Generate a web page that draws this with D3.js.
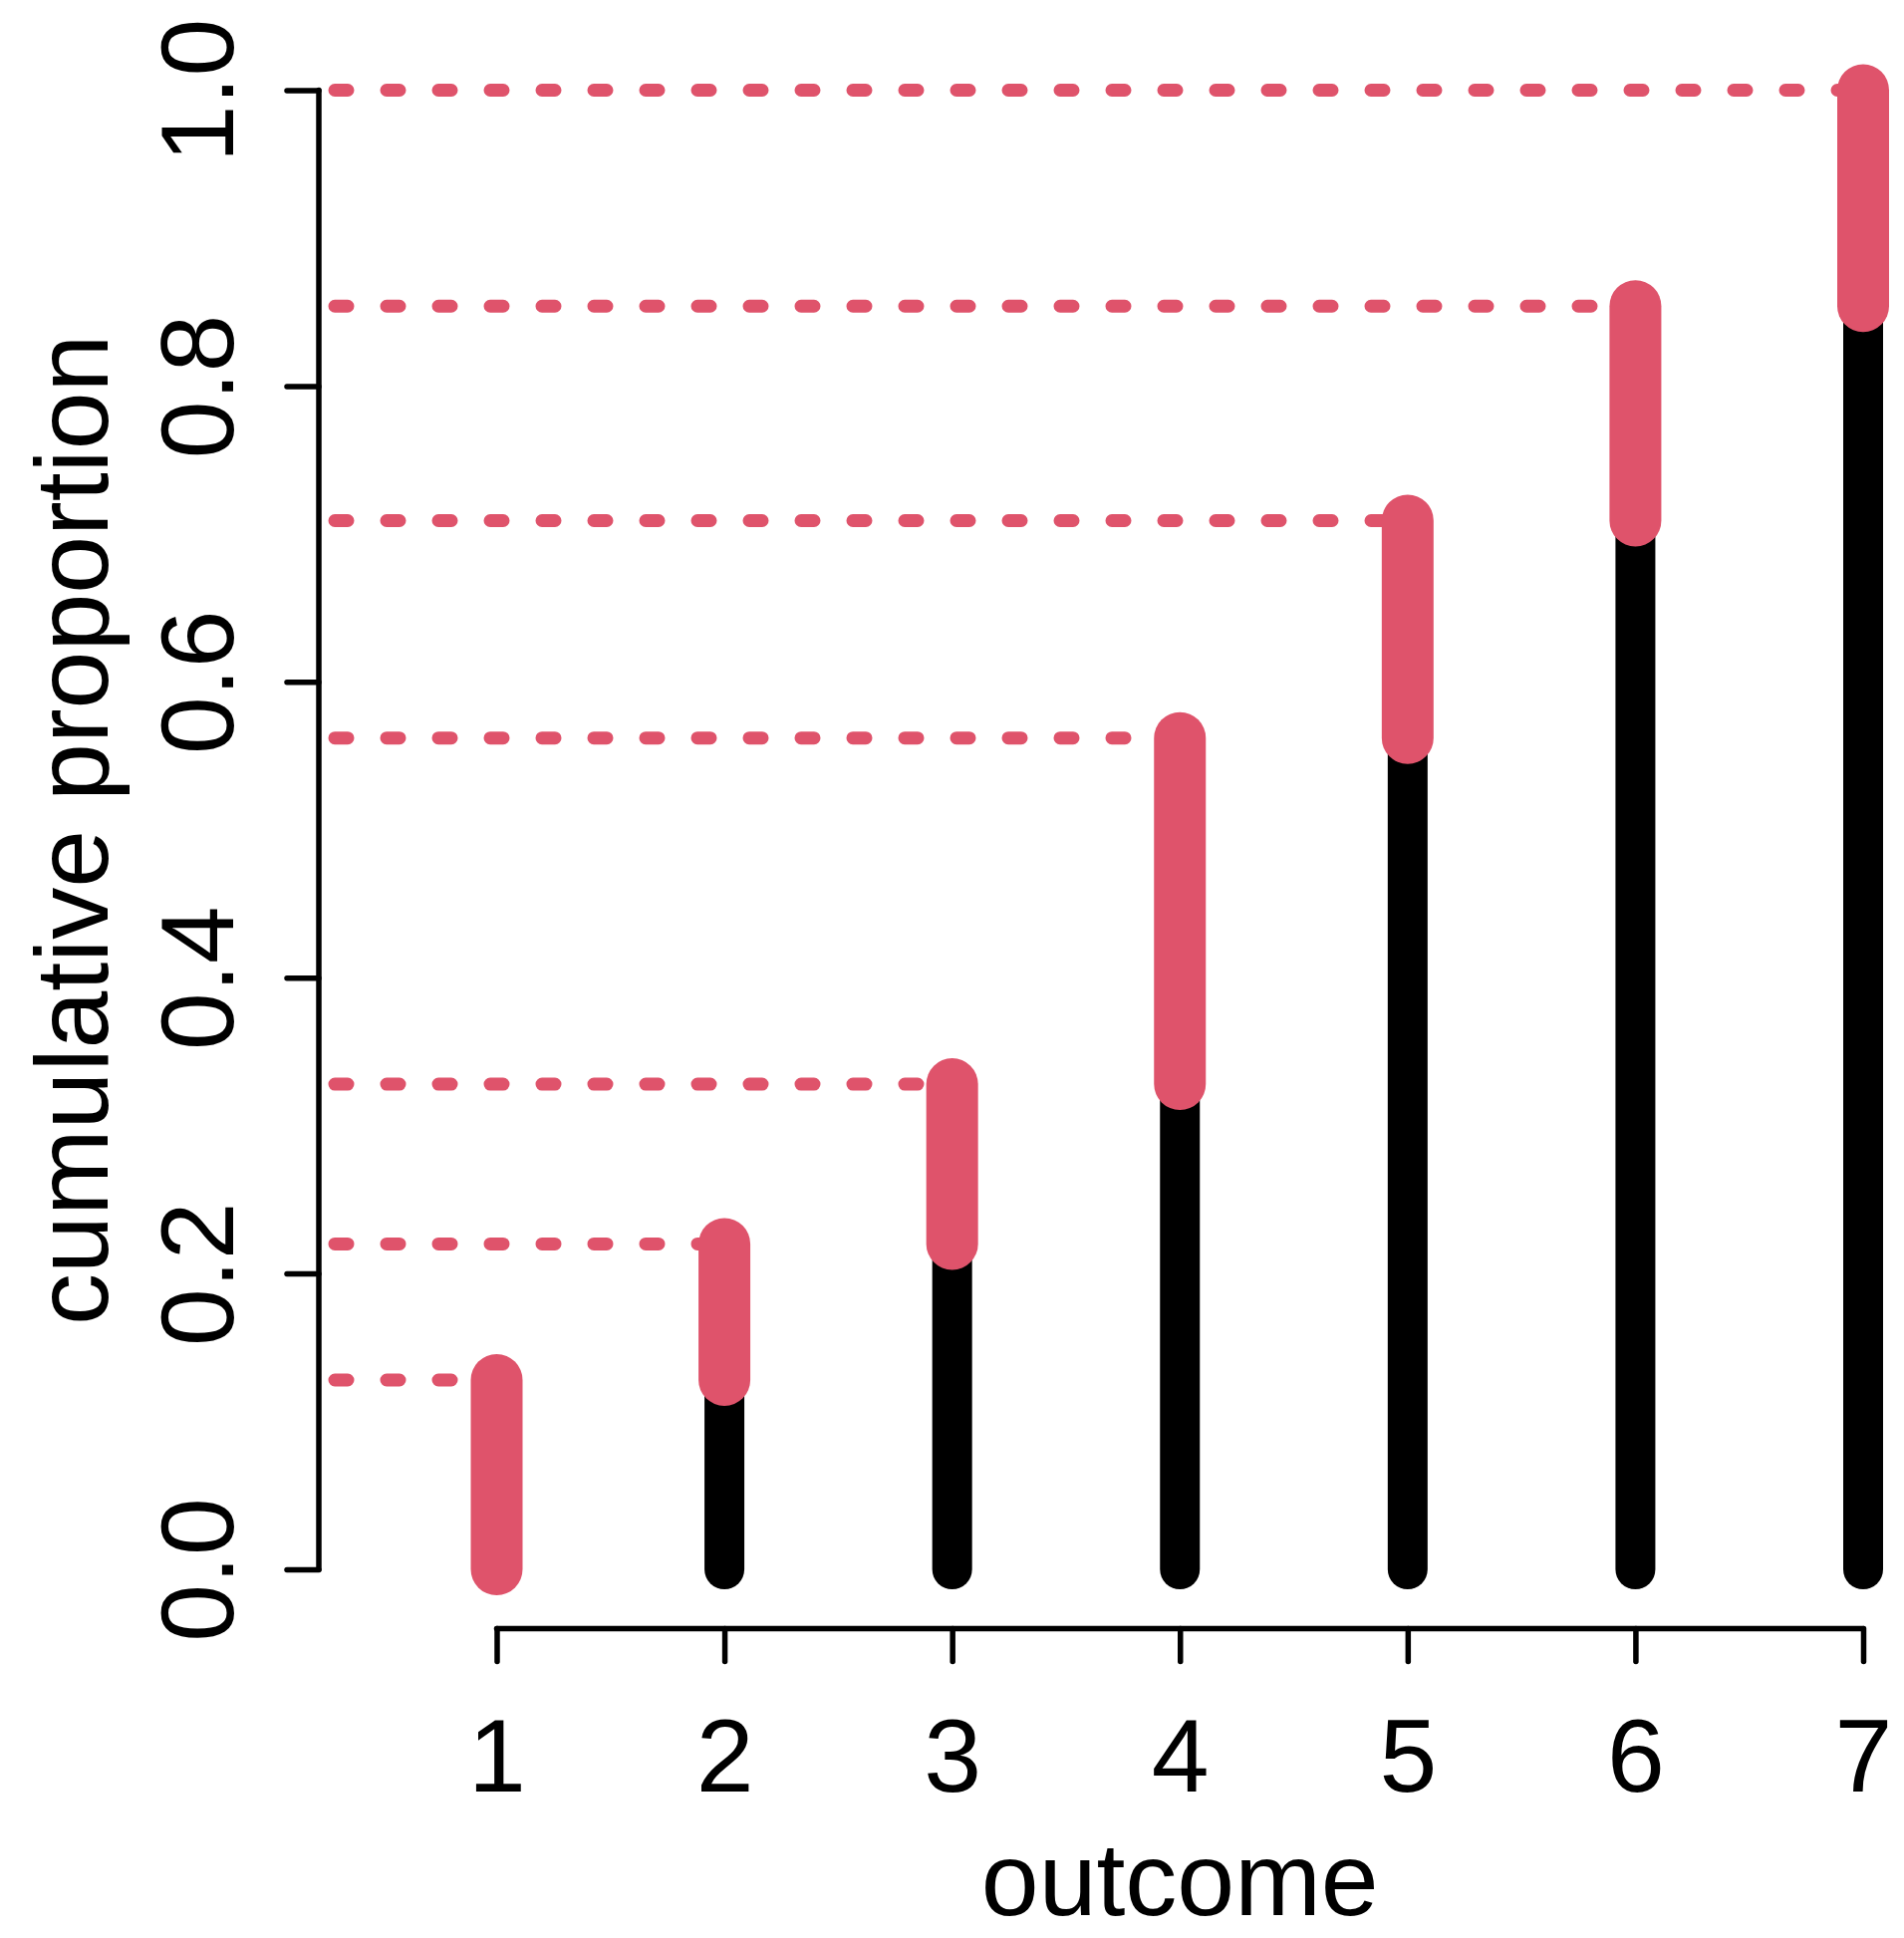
<!DOCTYPE html>
<html>
<head>
<meta charset="utf-8">
<script src="https://cdn.jsdelivr.net/npm/d3@7"></script>
<style>
  html, body { margin: 0; padding: 0; background: #fff; }
  svg { display: block; font-family: "Liberation Sans", Arial, sans-serif; }
</style>
</head>
<body>
<div class="container"></div>
<script>
const WIDTH = 1911,
    HEIGHT = 1945,
    AXIS_X = 320,
    AXIS_Y = 1634.5,
    RED = '#DF536B',
    FONT_SIZE = 104;

// data
const outcomes = [1, 2, 3, 4, 5, 6, 7];
const cumProportion = [0.128, 0.220, 0.328, 0.562, 0.709, 0.854, 1.0];
const yTicks = [0, 0.2, 0.4, 0.6, 0.8, 1.0];
const xLabel = 'outcome',
    yLabel = 'cumulative proportion';

const xScale = d3.scaleLinear()
    .domain([1, 7])
    .range([498.5, 1870]);

const yScale = d3.scaleLinear()
    .domain([0, 1])
    .range([1575, 90.5]);

var svg = d3.select('.container').append('svg')
    .attr('width', WIDTH)
    .attr('height', HEIGHT);

// y axis
var yAxis = d3.axisLeft(yScale)
    .tickValues(yTicks)
    .tickSize(32)
    .tickSizeOuter(0)
    .tickFormat(d3.format('.1f'));

var gy = svg.append('g')
    .attr('transform', `translate(${AXIS_X},0)`)
    .call(yAxis);

gy.select('.domain').remove();
gy.append('line')
    .attr('y1', yScale(0))
    .attr('y2', yScale(1))
    .attr('stroke', '#000')
    .attr('stroke-width', 5.5)
    .attr('stroke-linecap', 'round');
gy.selectAll('.tick line')
    .attr('stroke-width', 5.5)
    .attr('stroke-linecap', 'round');
gy.selectAll('.tick text')
    .attr('x', null)
    .attr('dy', null)
    .attr('transform', 'translate(-86,0) rotate(-90)')
    .attr('text-anchor', 'middle')
    .attr('fill', '#000')
    .style('font-size', FONT_SIZE + 'px');

// x axis
var xAxis = d3.axisBottom(xScale)
    .tickValues(outcomes)
    .tickSize(33)
    .tickSizeOuter(0)
    .tickFormat(d3.format('d'));

var gx = svg.append('g')
    .attr('transform', `translate(0,${AXIS_Y})`)
    .call(xAxis);

gx.select('.domain').remove();
gx.append('line')
    .attr('x1', xScale(1))
    .attr('x2', xScale(7))
    .attr('stroke', '#000')
    .attr('stroke-width', 5.5)
    .attr('stroke-linecap', 'round');
gx.selectAll('.tick line')
    .attr('stroke-width', 5.5)
    .attr('stroke-linecap', 'round');
gx.selectAll('.tick text')
    .attr('dy', null)
    .attr('y', 163.5)
    .attr('fill', '#000')
    .style('font-size', FONT_SIZE + 'px');

svg.selectAll('g').attr('font-family', null).attr('font-size', null);

// dotted guides
svg.append('g').selectAll('line')
    .data(cumProportion)
    .enter().append('line')
    .attr('x1', AXIS_X + 16)
    .attr('x2', (d, i) => xScale(outcomes[i]))
    .attr('y1', yScale)
    .attr('y2', yScale)
    .attr('stroke', RED)
    .attr('stroke-width', 13)
    .attr('stroke-dasharray', '13 39')
    .attr('stroke-linecap', 'round');

// cumulative bars
svg.append('g').selectAll('line')
    .data(cumProportion)
    .enter().append('line')
    .attr('x1', (d, i) => xScale(outcomes[i]))
    .attr('x2', (d, i) => xScale(outcomes[i]))
    .attr('y1', yScale(0))
    .attr('y2', yScale)
    .attr('stroke', '#000')
    .attr('stroke-width', 40)
    .attr('stroke-linecap', 'round');

// increments
svg.append('g').selectAll('line')
    .data(cumProportion)
    .enter().append('line')
    .attr('x1', (d, i) => xScale(outcomes[i]))
    .attr('x2', (d, i) => xScale(outcomes[i]))
    .attr('y1', (d, i) => yScale(i === 0 ? 0 : cumProportion[i - 1]))
    .attr('y2', yScale)
    .attr('stroke', RED)
    .attr('stroke-width', 52)
    .attr('stroke-linecap', 'round');

// axis titles
svg.append('text')
    .attr('x', xScale(4))
    .attr('y', 1922)
    .attr('text-anchor', 'middle')
    .style('font-size', FONT_SIZE + 'px')
    .text(xLabel);

svg.append('text')
    .attr('transform', `translate(108,${yScale(0.5)}) rotate(-90)`)
    .attr('text-anchor', 'middle')
    .style('font-size', FONT_SIZE + 'px')
    .text(yLabel);
</script>
</body>
</html>
